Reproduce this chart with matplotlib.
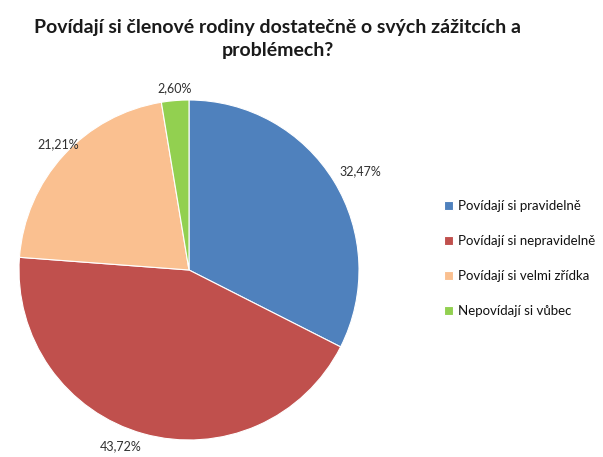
import matplotlib
matplotlib.use("Agg")
import matplotlib.pyplot as plt
import numpy as np

plt.rcParams["font.family"] = ["Lato", "DejaVu Sans"]

title = "Povídají si členové rodiny dostatečně o svých zážitcích a\nproblémech?"
categories = ["Povídají si pravidelně", "Povídají si nepravidelně",
              "Povídají si velmi zřídka", "Nepovídají si vůbec"]
values = [32.47, 43.72, 21.21, 2.60]
colors = ["#4F81BD", "#C0504D", "#FAC090", "#92D050"]

fig = plt.figure(figsize=(6.03, 4.57), dpi=100)

# pie in its own axes placed by pixel box
R = 170
cx, cy = 189, 270
pax = fig.add_axes([(cx - R) / 603, 1 - (cy + R) / 457, 2 * R / 603, 2 * R / 457])
wedges, _ = pax.pie(
    values, colors=colors, startangle=90, counterclock=False,
    wedgeprops=dict(edgecolor="white", linewidth=0.8))
pax.set_xlim(-1, 1)
pax.set_ylim(-1, 1)
pax.set_aspect("equal")

# data labels like Excel "best fit": just outside the rim, aligned per wedge
align = [("left", "bottom"), ("right", "top"), ("center", "bottom"), ("center", "bottom")]
for w, v, (ha, va) in zip(wedges, values, align):
    mid = np.deg2rad((w.theta1 + w.theta2) / 2)
    r = 1.04
    pax.text(r * np.cos(mid), r * np.sin(mid), f"{v:.2f}%".replace(".", ","),
             ha=ha, va=va, fontsize=9, color="#303030")

fig.text(278 / 603, 1 - 39 / 457, title, ha="center", va="center",
         fontsize=14, fontweight="bold", color="#1a1a1a", linespacing=1.4)

leg = fig.legend(wedges, categories, loc="upper left",
                 bbox_to_anchor=(432 / 603, 1 - 188 / 457), frameon=False,
                 fontsize=9.5, handlelength=0.7, handleheight=0.7,
                 labelspacing=1.75, handletextpad=0.4)
for t in leg.get_texts():
    t.set_color("#111111")

fig.savefig("out.png", dpi=100)
